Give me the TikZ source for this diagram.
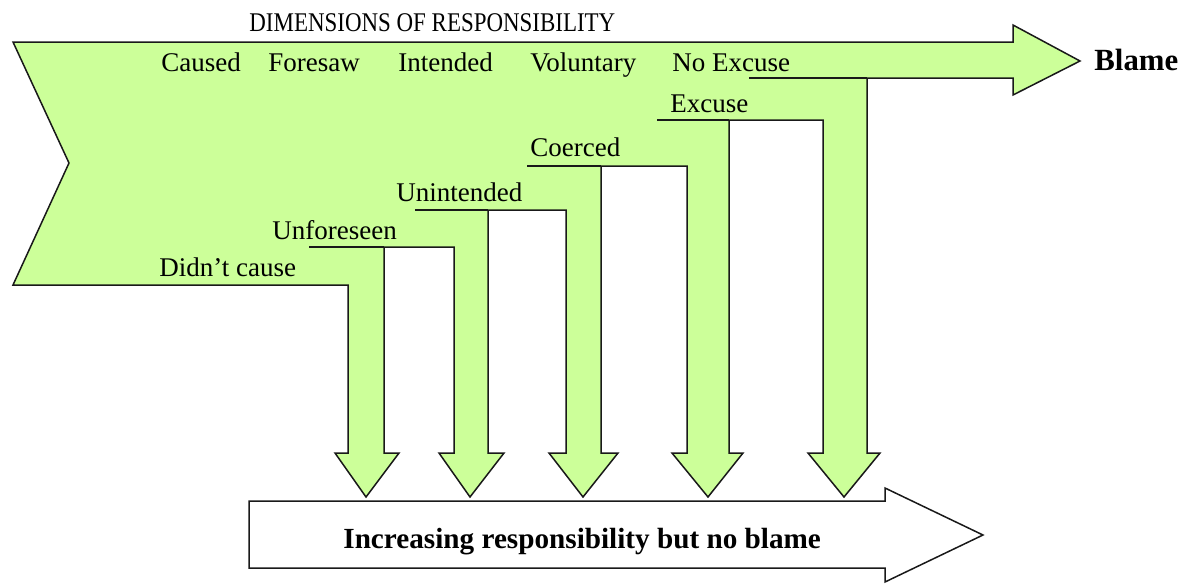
\documentclass[tikz,border=0pt]{standalone}
\usepackage{fontspec}
\setmainfont{Liberation Serif}
\usepackage{graphicx}
\definecolor{leafgreen}{HTML}{CCFF99}

\begin{document}
\begin{tikzpicture}[x = 0.5pt, y = -0.5pt,
    dimtext/.style = {anchor = base west, inner sep = 0pt, font = \fontsize{13.5}{16}\selectfont},
    boldtext/.style = {anchor = base west, inner sep = 0pt, font = \fontsize{14.6}{17}\selectfont\bfseries},
    outline/.style = {draw = black!90, line width = 0.75pt, line join = miter}]
    \useasboundingbox (0, 0) rectangle (1184, 584);

    \draw[outline, fill = leafgreen] (13, 42) -- (1013, 42) -- (1013, 25) -- (1080, 61)
        -- (1013, 95) -- (1013, 78) -- (867, 78)
        -- (867, 453) -- (880, 453) -- (844, 497) -- (808, 453) -- (823, 453) -- (823, 120)
        -- (729, 120) -- (729, 453) -- (743, 453) -- (708, 497) -- (672, 453) -- (687, 453) -- (687, 166)
        -- (601, 166) -- (601, 453) -- (618, 453) -- (583, 497) -- (549, 453) -- (566, 453) -- (566, 210)
        -- (488, 210) -- (488, 453) -- (504, 453) -- (470, 497) -- (439, 453) -- (454, 453) -- (454, 247)
        -- (384, 247) -- (384, 453) -- (399, 453) -- (366, 497) -- (335, 453) -- (348, 453) -- (348, 285)
        -- (13, 285) -- (69, 163) -- cycle;

    \draw[outline] (309, 247) -- (384, 247);
    \draw[outline] (415, 210) -- (488, 210);
    \draw[outline] (527, 166) -- (601, 166);
    \draw[outline] (657, 120) -- (729, 120);
    \draw[outline] (749, 78) -- (867, 78);

    \draw[outline, fill = white] (249, 501) -- (885, 501) -- (885, 488) -- (983, 535)
        -- (885, 582) -- (885, 568) -- (249, 568) -- cycle;

    \node[dimtext] (title) at (249, 31) {\scalebox{0.85}[1]{DIMENSIONS OF RESPONSIBILITY}};

    \node[dimtext] (caused) at (161, 71) {Caused};
    \node[dimtext] (foresaw) at (268, 71) {Foresaw};
    \node[dimtext] (intended) at (398, 71) {Intended};
    \node[dimtext] (voluntary) at (530, 71) {Voluntary};
    \node[dimtext] (noexcuse) at (672, 71) {No Excuse};

    \node[dimtext] (excuse) at (670, 112) {Excuse};
    \node[dimtext] (coerced) at (530, 156) {Coerced};
    \node[dimtext] (unintended) at (396, 201) {Unintended};
    \node[dimtext] (unforeseen) at (272, 239) {Unforeseen};
    \node[dimtext] (didntcause) at (159, 276) {Didn't cause};

    \node[boldtext, font = \fontsize{15.4}{18}\selectfont\bfseries] (blame) at (1094, 70) {Blame};
    \node[boldtext] (noblame) at (343, 548) {Increasing responsibility but no blame};

\end{tikzpicture}
\end{document}
